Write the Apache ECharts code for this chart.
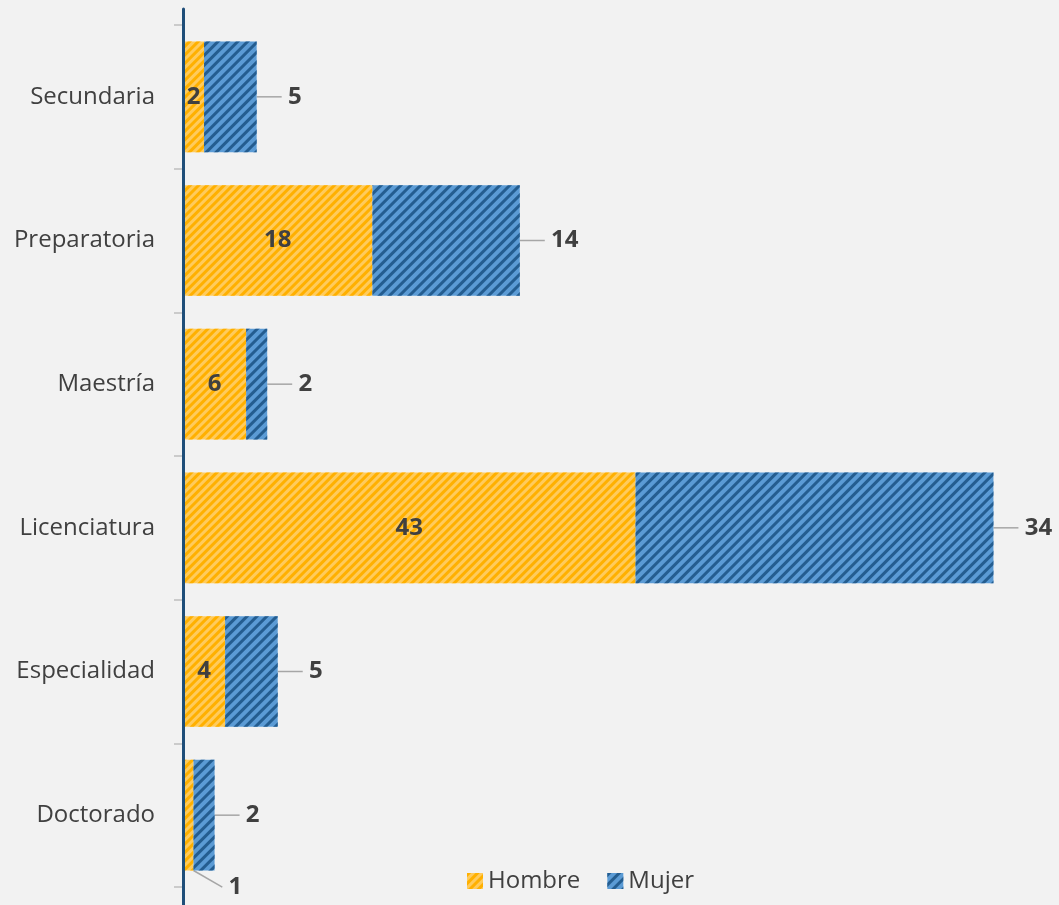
<!DOCTYPE html>
<html><head><meta charset="utf-8">
<script src="https://cdn.jsdelivr.net/npm/echarts@6/dist/echarts.min.js"></script>
<style>html,body{margin:0;padding:0;background:#f2f2f2}#c{width:1059px;height:905px}</style>
</head><body><div id="c"></div>
<script>
const categories = ['Secundaria','Preparatoria','Maestría','Licenciatura','Especialidad','Doctorado'];
const hombre = [2,18,6,43,4,1];
const mujer = [5,14,2,34,5,2];
const seriesNames = ['Hombre','Mujer'];

const FONT = "'Open Sans', 'Noto Sans', sans-serif";
const TXT = '#404040';
const chart = echarts.init(document.getElementById('c'));

const hombreData = hombre.map((v, i) => i === 5
  ? { value: v, labelLine: { show: true }, label: { formatter: ' {c}' } }
  : { value: v });

chart.setOption({
  backgroundColor: '#f2f2f2',
  animation: false,
  grid: [
    { left: 183, right: 34, top: 25, bottom: 18 },
    { left: 183, right: 34, top: 9, bottom: 0 }
  ],
  xAxis: [
    { type: 'value', min: 0, max: 80, show: false, gridIndex: 0 },
    { type: 'value', min: 0, max: 1, show: false, gridIndex: 1 }
  ],
  yAxis: [
    {
      type: 'category', data: categories, inverse: true, gridIndex: 0,
      axisLine: { show: false },
      axisTick: { show: true, length: 9, lineStyle: { color: '#BFBFBF', width: 1.5 } },
      axisLabel: { fontSize: 24, color: TXT, fontFamily: FONT, margin: 28 },
      splitLine: { show: false }
    },
    {
      type: 'value', min: 0, max: 1, gridIndex: 1, z: 20,
      axisLine: { show: true, lineStyle: { color: '#1F4E79', width: 3 } },
      axisTick: { show: false }, axisLabel: { show: false }, splitLine: { show: false }
    }
  ],
  legend: {
    data: seriesNames,
    left: 462, top: 864,
    icon: 'rect', itemWidth: 16, itemHeight: 16, itemGap: 27,
    textStyle: { fontSize: 24, color: TXT, fontFamily: FONT }
  },
  series: [
    {
      name: seriesNames[0], type: 'bar', stack: 'total', data: hombreData,
      barCategoryGap: '23%',
      itemStyle: {
        color: '#FFCB5C',
        decal: { symbol: 'rect', symbolSize: 1, color: '#FFB000', dashArrayX: [1, 0], dashArrayY: [3, 3], rotation: -Math.PI / 4 }
      },
      label: { show: true, position: 'inside', fontSize: 24, fontWeight: 'bold', color: TXT, fontFamily: FONT },
      labelLine: { show: false, lineStyle: { color: '#A6A6A6', width: 1.5 } },
      labelLayout: function (p) {
        if (p.dataIndex === 5) return { dx: 44, dy: 72 };
        return {};
      }
    },
    {
      name: seriesNames[1], type: 'bar', stack: 'total', data: mujer,
      barCategoryGap: '23%',
      itemStyle: {
        color: '#5B9BD5',
        decal: { symbol: 'rect', symbolSize: 1, color: '#245D90', dashArrayX: [1, 0], dashArrayY: [2.5, 3.5], rotation: -Math.PI / 4 }
      },
      label: { show: true, position: 'right', distance: 5, formatter: ' {c}', fontSize: 24, fontWeight: 'bold', color: TXT, fontFamily: FONT },
      labelLine: { show: true, length2: 0, lineStyle: { color: '#A6A6A6', width: 1.5 } },
      labelLayout: { dx: 20 }
    }
  ]
});
</script>
</body></html>
